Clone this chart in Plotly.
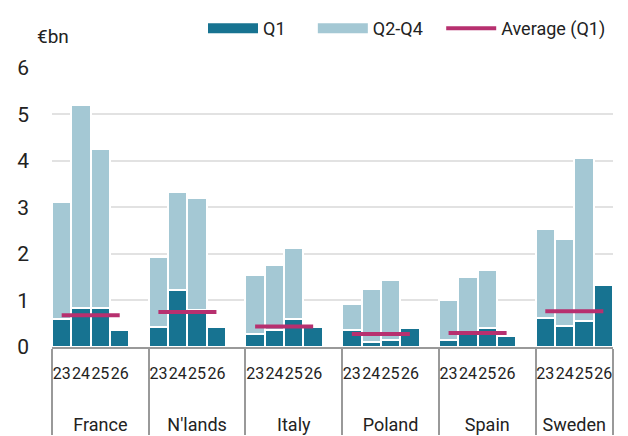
import plotly.graph_objects as go

countries = ["France", "N'lands", "Italy", "Poland", "Spain", "Sweden"]
years = ["23", "24", "25", "26"]
spacer = " "

q1 = {
    "France":  [0.60, 0.84, 0.83, 0.37],
    "N'lands": [0.42, 1.22, 0.80, 0.44],
    "Italy":   [0.28, 0.36, 0.60, 0.42],
    "Poland":  [0.36, 0.11, 0.16, 0.41],
    "Spain":   [0.14, 0.28, 0.41, 0.24],
    "Sweden":  [0.63, 0.46, 0.55, 1.33],
}
q2_q4 = {
    "France":  [2.51, 4.36, 3.42, None],
    "N'lands": [1.51, 2.11, 2.40, None],
    "Italy":   [1.26, 1.41, 1.52, None],
    "Poland":  [0.57, 1.13, 1.28, None],
    "Spain":   [0.87, 1.22, 1.24, None],
    "Sweden":  [1.91, 1.86, 3.52, None],
}
avg_q1 = {"France": 0.68, "N'lands": 0.75, "Italy": 0.44,
          "Poland": 0.28, "Spain": 0.30, "Sweden": 0.77}

y_ticks = [0, 1, 2, 3, 4, 5, 6]

C_Q1 = "#177391"
C_REST = "#a4c8d4"
C_AVG = "#b7306f"
FONT = "Roboto, Liberation Sans, sans-serif"
NB = "\u00a0"

# group labels pushed lower and set larger (display only)
glabel = {c: "<br><br><span style='font-size:18px'>" + c + "</span>" for c in countries}

# build multicategory x with a spacer slot after each group (except last)
lvl0, lvl1, yq1, yrest = [], [], [], []
for i, c in enumerate(countries):
    for j, yr in enumerate(years):
        lvl0.append(glabel[c]); lvl1.append(yr)
        yq1.append(q1[c][j]); yrest.append(q2_q4[c][j])
    if i < len(countries) - 1:
        lvl0.append(glabel[c]); lvl1.append(spacer)
        yq1.append(None); yrest.append(None)
n_slots = len(lvl0)

fig = go.Figure()
fig.add_trace(go.Bar(x=[lvl0, lvl1], y=yq1, name="Q1", marker=dict(color=C_Q1, line=dict(color="white", width=2)),
                     showlegend=False))
fig.add_trace(go.Bar(x=[lvl0, lvl1], y=yrest, name="Q2-Q4", marker=dict(color=C_REST, line=dict(color="white", width=2)),
                     showlegend=False))
for k, c in enumerate(countries):
    fig.add_trace(go.Scatter(x=[[glabel[c], glabel[c]], [years[0], years[-1]]], y=[avg_q1[c], avg_q1[c]],
                             mode="lines", line=dict(color=C_AVG, width=4), name="Average (Q1)",
                             legendgroup="avg", showlegend=False))

# legend entries (no data, legend keys only)
fig.add_trace(go.Scatter(x=[lvl0[:1], lvl1[:1]], y=[None], mode="lines", line=dict(color=C_Q1, width=10),
                         name="Q1" + NB * 5))
fig.add_trace(go.Scatter(x=[lvl0[:1], lvl1[:1]], y=[None], mode="lines", line=dict(color=C_REST, width=10),
                         name="Q2-Q4" + NB * 3))
fig.add_trace(go.Scatter(x=[lvl0[:1], lvl1[:1]], y=[None], mode="lines", line=dict(color=C_AVG, width=4),
                         name="Average (Q1)"))

fig.update_layout(
    width=628, height=436,
    margin=dict(l=52, r=15, t=67, b=89, autoexpand=False),
    paper_bgcolor="white", plot_bgcolor="white",
    barmode="stack", bargap=0.0,
    font=dict(family=FONT, size=18, color="#222"),
    legend=dict(orientation="h", xref="container", yref="container", x=203 / 628, xanchor="left",
                y=0.977, yanchor="top", font=dict(size=18), itemwidth=50, traceorder="normal"),
    xaxis=dict(type="multicategory", showline=True, linecolor="#999", linewidth=1.5,
               showdividers=True, dividercolor="#999", dividerwidth=1.5,
               range=[-0.5, n_slots - 0.5], dtick=1, tickangle=0, automargin=False,
               ticklabelstandoff=11, tickfont=dict(size=16), ticks="", showgrid=False),
    yaxis=dict(range=[0, 6.02], tickvals=y_ticks, showgrid=True, gridcolor="#e2e2e2", gridwidth=1.5,
               zeroline=False, tickfont=dict(size=21), ticklabelstandoff=22, showline=False, automargin=False),
    annotations=[dict(text="€bn", xref="paper", yref="paper", x=-0.03, y=1.109, xanchor="left",
                      yanchor="middle", showarrow=False, font=dict(size=19))],
)

fig.write_html("out.html", config={"displayModeBar": False},
               post_script="document.body.style.margin='0px';")
